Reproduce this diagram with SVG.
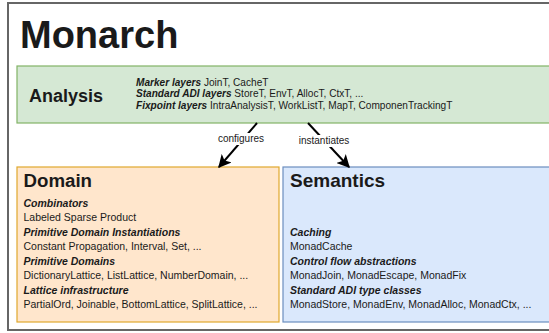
<svg xmlns="http://www.w3.org/2000/svg" width="549" height="333" viewBox="0 0 549 333">
<style>
text{font-family:"Liberation Sans",Arial,Helvetica,sans-serif;fill:#1a1a1a}
.h{font-weight:bold}
.b{font-weight:bold;font-style:italic}
.t{font-size:10.5px}
.g{font-size:10.1px}
.lbl{font-size:10px}
.conn{stroke:#000;stroke-width:2;fill:none}
</style>
<defs>
<marker id="ah" viewBox="0 0 10 10" refX="9" refY="5" markerWidth="6.5" markerHeight="6.5" orient="auto" markerUnits="strokeWidth">
<path d="M0,0 L10,5 L0,10 L2.5,5 Z" fill="#000"/>
</marker>
</defs>
<rect x="0" y="0" width="549" height="333" fill="#fff"/>
<rect id="frame" x="8" y="3" width="600" height="327" fill="#fff" stroke="#666" stroke-width="2"/>
<text class="h" x="20" y="48" font-size="38">Monarch</text>

<g id="analysis">
<rect x="17" y="66" width="540" height="57" fill="#d5e8d4" stroke="#82b366" stroke-width="1.2"/>
<text class="h" x="29" y="101.7" font-size="18">Analysis</text>
<text class="g" x="136" y="85.5"><tspan class="b">Marker layers</tspan> JoinT, CacheT</text>
<text class="g" x="136" y="97"><tspan class="b">Standard ADI layers</tspan> StoreT, EnvT, AllocT, CtxT, ...</text>
<text class="g" x="136" y="108.5"><tspan class="b">Fixpoint layers</tspan> IntraAnalysisT, WorkListT, MapT, ComponenTrackingT</text>
</g>

<g id="domain">
<rect x="17" y="167" width="262" height="155" fill="#ffe6cc" stroke="#e0a82e" stroke-width="1.2"/>
<text class="h" x="23.5" y="186.7" font-size="18.7">Domain</text>
<text class="t b" x="23.5" y="206.7">Combinators</text>
<text class="t" x="23.5" y="221.2">Labeled Sparse Product</text>
<text class="t b" x="23.5" y="235.7">Primitive Domain Instantiations</text>
<text class="t" x="23.5" y="250.2">Constant Propagation, Interval, Set, ...</text>
<text class="t b" x="23.5" y="264.7">Primitive Domains</text>
<text class="t" x="23.5" y="279.2">DictionaryLattice, ListLattice, NumberDomain, ...</text>
<text class="t b" x="23.5" y="293.7">Lattice infrastructure</text>
<text class="t" x="23.5" y="308.2">PartialOrd, Joinable, BottomLattice, SplitLattice, ...</text>
</g>

<g id="semantics">
<rect x="283" y="167" width="270" height="155" fill="#dae8fc" stroke="#6c8ebf" stroke-width="1.2"/>
<text class="h" x="290" y="186.7" font-size="19">Semantics</text>
<text class="t b" x="290" y="235.7">Caching</text>
<text class="t" x="290" y="250.2">MonadCache</text>
<text class="t b" x="290" y="264.7">Control flow abstractions</text>
<text class="t" x="290" y="279.2">MonadJoin, MonadEscape, MonadFix</text>
<text class="t b" x="290" y="293.7">Standard ADI type classes</text>
<text class="t" x="290" y="308.2">MonadStore, MonadEnv, MonadAlloc, MonadCtx, ...</text>
</g>

<g id="connectors">
<line class="conn" x1="257" y1="123" x2="219" y2="167" marker-end="url(#ah)"/>
<line class="conn" x1="308" y1="123" x2="349" y2="167" marker-end="url(#ah)"/>
<rect x="216" y="133" width="50" height="12" fill="#fff"/>
<rect x="296" y="135" width="56" height="12" fill="#fff"/>
<text class="lbl" x="241" y="142" text-anchor="middle">configures</text>
<text class="lbl" x="324" y="144" text-anchor="middle">instantiates</text>
</g>
</svg>
